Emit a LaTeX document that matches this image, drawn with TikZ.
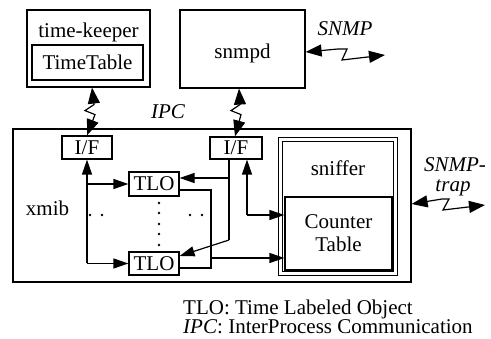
\documentclass[tikz,border=0pt]{standalone}
\usepackage{fontspec}
\setmainfont{Liberation Serif}
\usetikzlibrary{arrows.meta,calc}
\tikzset{
  box/.style={draw, line width=1.2pt, inner sep=0pt},
  txt/.style={inner sep=0pt, font=\fontsize{21}{25}\selectfont},
  itxt/.style={inner sep=0pt, font=\fontsize{21}{25}\selectfont\itshape},
  arr/.style={line width=1.2pt, -{Triangle[length=15pt,width=10pt]}},
  wire/.style={line width=1.2pt},
  zz/.style={line width=1.2pt, line join=miter, {Triangle[length=16pt,width=12pt]}-{Triangle[length=16pt,width=12pt]}},
  dotc/.style={fill, circle, inner sep=0pt, minimum size=2.8pt}
}
\begin{document}
\begin{tikzpicture}[x=1pt,y=-1pt]
\useasboundingbox (0,0) rectangle (491,339);
% top boxes
\node[box, minimum width=123pt, minimum height=77pt] (tk) at (88.5,48.5) {};
\node[txt] (tkl) at (88.5,32) {time-keeper};
\node[box, txt, minimum width=111pt, minimum height=35pt] (tt) at (87.5,62.5) {TimeTable};
\node[box, minimum width=125pt, minimum height=78pt] (snmpd) at (242.5,49) {};
\node[txt] (snmpdl) at (242.5,53) {snmpd};
% xmib
\node[box, minimum width=398pt, minimum height=153pt] (xmib) at (212,205.5) {};
\node[txt] (xmibl) at (47.5,208) {xmib};
\node[box, txt, minimum width=50pt, minimum height=23pt] (if1) at (87,147.5) {I/F};
\node[box, txt, minimum width=52pt, minimum height=22pt] (if2) at (236,148) {I/F};
\node[box, txt, minimum width=50pt, minimum height=24pt] (tlo1) at (154,184) {TLO};
\node[box, txt, minimum width=50pt, minimum height=23pt] (tlo2) at (154,263.5) {TLO};
% sniffer
\node[draw, line width=1.1pt, double, double distance=3pt, minimum width=115.6pt, minimum height=134.6pt, inner sep=0pt] (sn) at (338,206.5) {};
\node[txt] (snl) at (338,168.5) {sniffer};
\node[box, txt, align=center, minimum width=107pt, minimum height=73pt] (ct) at (338.5,233.5) {Counter\\[-2pt]Table};
% labels
\node[itxt] (snmp) at (345,29) {SNMP};
\node[itxt] (ipc) at (168,112) {IPC};
\node[itxt] (trap1) at (455,165) {SNMP-};
\node[itxt] (trap2) at (453,188) {trap};
% zigzag links
\draw[zz] ([xshift=3.5pt]tk.south) -- ++(2,17) -- ++(-9,6) -- ++(10,4) -- (if1.north);
\draw[zz] ([xshift=-3.5pt]snmpd.south) -- ++(1,16) -- ++(-9,6) -- ++(10,4) -- ([xshift=-1pt]if2.north);
\coordinate (snmpR) at (385,55);
\draw[zz] ([yshift=-3pt]snmpd.east) -- (338,49) -- (347,49) -- (342,60) -- (snmpR);
\coordinate (trapR) at (485,205);
\draw[zz] ([yshift=1.5pt]xmib.east) -- (442,199) -- (449,199) -- (443,210) -- (trapR);
% left bus
\coordinate (lb) at (87,263.5);
\draw[arr] (lb) -- (if1.south);
\draw[arr] (lb) -- (tlo2.west);
\draw[arr] (lb |- tlo1.west) -- (tlo1.west);
% IF2 bus
\coordinate (rb) at (229,240);
\coordinate (rb1) at (229,178);
\draw[wire] (if2.south -| rb) -- (rb);
\draw[arr] (rb) -- ([yshift=7.5pt]tlo2.east);
\draw[arr] (rb1) -- (rb1 -| tlo1.east);
% IF2 to counter table
\coordinate (cb) at (247,215);
\draw[arr] (cb) -- (cb |- if2.south);
\draw[arr] (cb) -- (cb -| ct.west);
% TLO outputs
\coordinate (ob) at (211,190);
\coordinate (ob2) at (211,268);
\coordinate (ob3) at (211,258);
\draw[wire] (ob -| tlo1.east) -- (ob) -- (ob2) -- (ob2 -| tlo2.east);
\draw[arr] (ob3) -- (ob3 -| ct.west);
% dots
\foreach \i/\xx/\yy in {a/90/215, b/102/215, c/190/215, d/202/215, e/159/203, f/159/213, g/159/224, h/159/234, k/159/245}
  \node[dotc] (dot\i) at (\xx,\yy) {};
% footer
\node[txt, anchor=base west] (f1) at (183,315) {TLO: Time Labeled Object};
\node[txt, anchor=base west] (f2) at (183,334) {\textit{IPC}: InterProcess Communication};
\end{tikzpicture}
\end{document}
